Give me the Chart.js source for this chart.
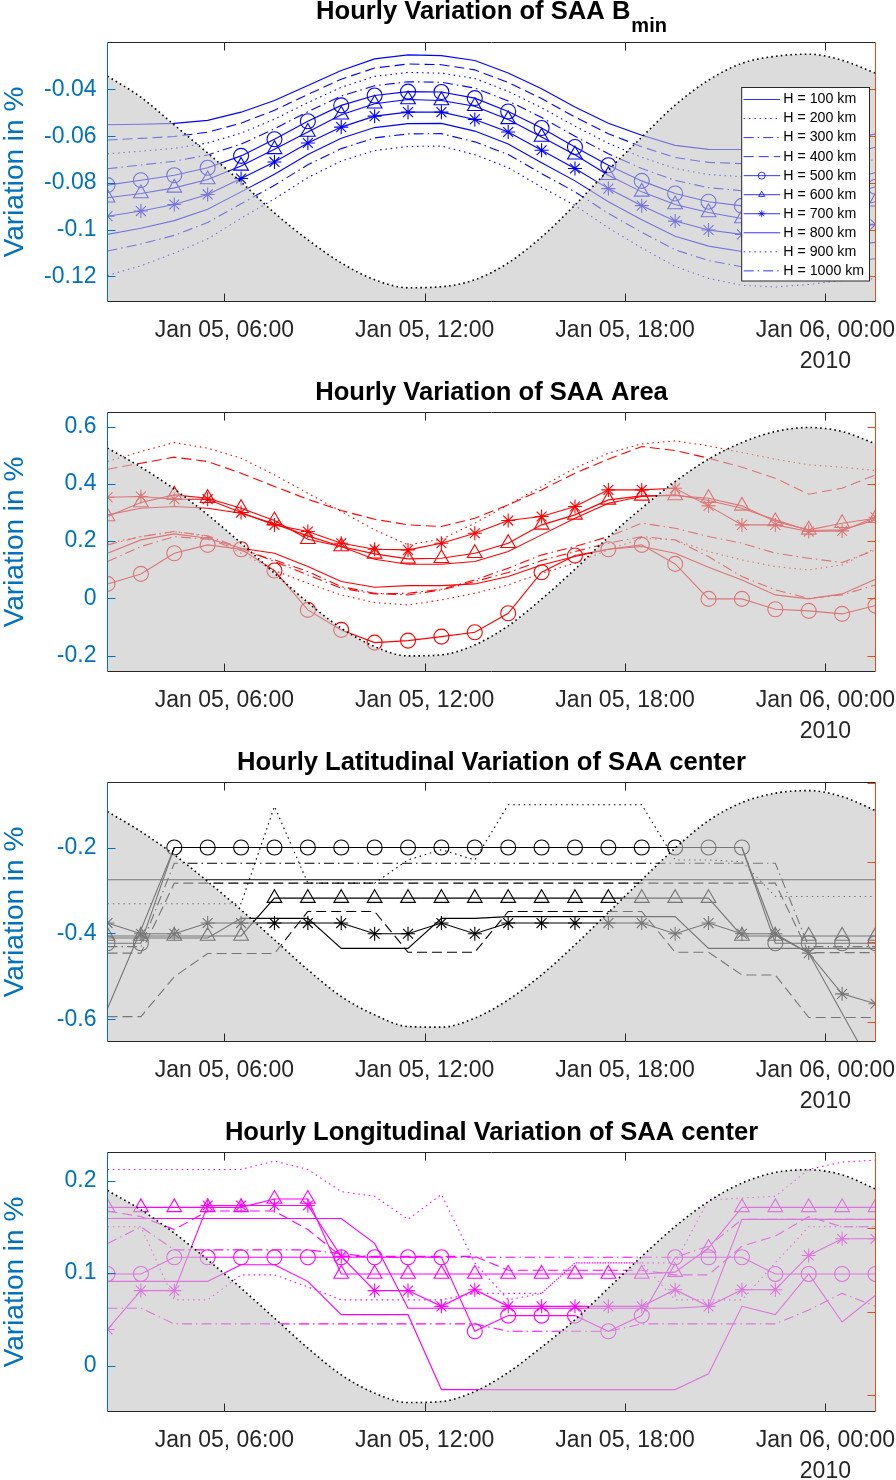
<!DOCTYPE html>
<html>
<head>
<meta charset="utf-8">
<script src="https://cdn.jsdelivr.net/npm/chart.js@4.4.1/dist/chart.umd.min.js"></script>
<style>
html,body{margin:0;padding:0;background:#fff;}
canvas{display:block;}
</style>
</head>
<body>
<canvas id="c1" width="896" height="370"></canvas>
<canvas id="c2" width="896" height="370"></canvas>
<canvas id="c3" width="896" height="370"></canvas>
<canvas id="c4" width="896" height="370"></canvas>
<script>
// ---------------- shared categories / ticks ----------------
const hours = [2.5,3.5,4.5,5.5,6.5,7.5,8.5,9.5,10.5,11.5,12.5,13.5,14.5,15.5,16.5,17.5,18.5,19.5,20.5,21.5,22.5,23.5,24.5,25.5];
const xTickValues = [6,12,18,24];
const xTickLabels = ['Jan 05, 06:00','Jan 05, 12:00','Jan 05, 18:00','Jan 06, 00:00'];
const xYearLabel = '2010';
const seriesNames = ['H = 100 km','H = 200 km','H = 300 km','H = 400 km','H = 500 km','H = 600 km','H = 700 km','H = 800 km','H = 900 km','H = 1000 km'];
const yAxisTitle = 'Variation in %';

// ---------------- panel 1 : B_min ----------------
const bminTitle = 'Hourly Variation of SAA B';
const bminTitleSub = 'min';
const bminH100 = [-0.0551,-0.0549,-0.0545,-0.0532,-0.0497,-0.0447,-0.0383,-0.0319,-0.0269,-0.0252,-0.0255,-0.0276,-0.0329,-0.0397,-0.0475,-0.0544,-0.0596,-0.0639,-0.0656,-0.0657,-0.0658,-0.0650,-0.0625,-0.0590];
const bminH200 = [-0.0675,-0.0664,-0.0652,-0.0629,-0.0587,-0.0527,-0.0456,-0.0391,-0.0344,-0.0327,-0.0330,-0.0353,-0.0408,-0.0478,-0.0557,-0.0630,-0.0690,-0.0738,-0.0764,-0.0773,-0.0775,-0.0766,-0.0737,-0.0698];
const bminH300 = [-0.0739,-0.0723,-0.0707,-0.0680,-0.0634,-0.0568,-0.0495,-0.0428,-0.0384,-0.0367,-0.0369,-0.0394,-0.0449,-0.0520,-0.0600,-0.0675,-0.0738,-0.0789,-0.0820,-0.0833,-0.0836,-0.0827,-0.0796,-0.0755];
const bminH400 = [-0.0616,-0.0609,-0.0601,-0.0583,-0.0544,-0.0489,-0.0421,-0.0356,-0.0308,-0.0291,-0.0294,-0.0316,-0.0370,-0.0439,-0.0518,-0.0589,-0.0645,-0.0691,-0.0712,-0.0717,-0.0719,-0.0711,-0.0684,-0.0647];
const bminH500 = [-0.0809,-0.0788,-0.0767,-0.0735,-0.0684,-0.0613,-0.0536,-0.0468,-0.0426,-0.0409,-0.0411,-0.0437,-0.0494,-0.0565,-0.0646,-0.0724,-0.0791,-0.0845,-0.0880,-0.0898,-0.0902,-0.0892,-0.0859,-0.0816];
const bminH600 = [-0.0863,-0.0845,-0.0821,-0.0785,-0.0727,-0.0656,-0.0582,-0.0508,-0.0461,-0.0443,-0.0447,-0.0472,-0.0528,-0.0603,-0.0679,-0.0767,-0.0838,-0.0892,-0.0926,-0.0952,-0.0955,-0.0945,-0.0912,-0.0880];
const bminH700 = [-0.0942,-0.0920,-0.0892,-0.0849,-0.0781,-0.0710,-0.0629,-0.0561,-0.0514,-0.0497,-0.0497,-0.0528,-0.0582,-0.0660,-0.0738,-0.0824,-0.0897,-0.0963,-0.1001,-0.1020,-0.1025,-0.1015,-0.0995,-0.0977];
const bminH800 = [-0.1020,-0.0994,-0.0961,-0.0912,-0.0838,-0.0763,-0.0678,-0.0609,-0.0563,-0.0546,-0.0545,-0.0578,-0.0633,-0.0713,-0.0791,-0.0880,-0.0957,-0.1028,-0.1070,-0.1093,-0.1098,-0.1088,-0.1069,-0.1054];
const bminH900 = [-0.1196,-0.1154,-0.1100,-0.1039,-0.0951,-0.0868,-0.0777,-0.0706,-0.0661,-0.0644,-0.0642,-0.0679,-0.0734,-0.0818,-0.0896,-0.0992,-0.1078,-0.1157,-0.1208,-0.1238,-0.1245,-0.1234,-0.1217,-0.1209];
const bminH1000 = [-0.1091,-0.1061,-0.1024,-0.0969,-0.0889,-0.0810,-0.0722,-0.0653,-0.0607,-0.0590,-0.0589,-0.0624,-0.0678,-0.0760,-0.0838,-0.0930,-0.1011,-0.1086,-0.1132,-0.1158,-0.1164,-0.1154,-0.1136,-0.1124];
const bminShade = [-0.0343,-0.0433,-0.0552,-0.0672,-0.0796,-0.0928,-0.1043,-0.1142,-0.1214,-0.1248,-0.1244,-0.1214,-0.1142,-0.1031,-0.0894,-0.0745,-0.0604,-0.0467,-0.0360,-0.0288,-0.0258,-0.0249,-0.0275,-0.0330];
const bminYTicks = [-0.12,-0.1,-0.08,-0.06,-0.04];
const bminYTickLabels = ['-0.12','-0.1','-0.08','-0.06','-0.04'];

// ---------------- panel 2 : Area ----------------
const areaTitle = 'Hourly Variation of SAA Area';
const areaH100 = [0.2917,0.3149,0.3208,0.3149,0.2975,0.2603,0.2184,0.1811,0.1369,0.1195,0.1195,0.1288,0.1637,0.2219,0.2800,0.3324,0.3557,0.3615,0.3417,0.3149,0.2742,0.2370,0.2393,0.2742];
const areaH200 = [0.4778,0.5127,0.5442,0.5244,0.4895,0.4313,0.3673,0.3033,0.2393,0.1870,0.2067,0.2626,0.3266,0.3906,0.4546,0.5069,0.5395,0.5500,0.5325,0.5092,0.4860,0.4662,0.4581,0.4464];
const areaH300 = [0.1870,0.2160,0.2335,0.2184,0.1753,0.1288,0.0822,0.0357,0.0159,0.0182,0.0322,0.0648,0.1055,0.1520,0.1811,0.2160,0.2626,0.2451,0.2160,0.1928,0.1579,0.1404,0.1253,0.1695];
const areaH400 = [0.4511,0.4720,0.4930,0.4778,0.4371,0.3906,0.3464,0.3068,0.2765,0.2568,0.2509,0.2800,0.3266,0.3789,0.4371,0.4860,0.5302,0.5162,0.4895,0.4581,0.4197,0.3638,0.3848,0.4313];
const areaH500 = [0.0508,0.0857,0.1579,0.1870,0.1718,0.0974,-0.0399,-0.1097,-0.1539,-0.1470,-0.1330,-0.1179,-0.0516,0.0916,0.1497,0.1718,0.1870,0.1206,-0.0015,-0.0015,-0.0376,-0.0434,-0.0539,-0.0248];
const areaH600 = [0.2859,0.3347,0.3615,0.3498,0.3149,0.2719,0.2067,0.1811,0.1555,0.1381,0.1404,0.1579,0.1928,0.2568,0.2917,0.3440,0.3580,0.3592,0.3498,0.3231,0.2684,0.2393,0.2626,0.2800];
const areaH700 = [0.3533,0.3557,0.3464,0.3464,0.2998,0.2568,0.2335,0.1928,0.1718,0.1695,0.1928,0.2277,0.2719,0.2859,0.3208,0.3789,0.3789,0.3847,0.3231,0.2568,0.2568,0.2335,0.2358,0.2835];
const areaH800 = [0.1579,0.2044,0.2254,0.2102,0.1753,0.1579,0.1113,0.0590,0.0392,0.0450,0.0450,0.0508,0.0764,0.1171,0.1462,0.1718,0.1811,0.1579,0.1090,0.0648,0.0124,-0.0015,0.0159,0.0671];
const areaH900 = [0.1928,0.2160,0.2335,0.2160,0.1579,0.0974,0.0532,0.0124,-0.0143,-0.0225,-0.0050,0.0182,0.0473,0.0881,0.1230,0.1695,0.2102,0.2044,0.1637,0.1346,0.1113,0.0997,0.1171,0.1753];
const areaH1000 = [0.1288,0.1811,0.2160,0.2067,0.1672,0.1346,0.0939,0.0415,0.0182,0.0124,0.0299,0.0590,0.0904,0.1323,0.1637,0.1928,0.2160,0.2044,0.1462,0.0764,0.0299,0.0008,0.0124,0.0473];
const areaShade = [0.5246,0.4583,0.3815,0.2918,0.1930,0.0883,-0.0143,-0.1037,-0.1679,-0.2003,-0.1968,-0.1620,-0.0956,-0.0024,0.1023,0.2140,0.3152,0.4080,0.4862,0.5442,0.5825,0.5965,0.5825,0.5396];
const areaYTicks = [-0.2,0,0.2,0.4,0.6];
const areaYTickLabels = ['-0.2','0','0.2','0.4','0.6'];

// ---------------- panel 3 : latitude of centre ----------------
const latTitle = 'Hourly Latitudinal Variation of SAA center';
const latH100 = [-0.275,-0.275,-0.275,-0.275,-0.275,-0.275,-0.275,-0.275,-0.275,-0.275,-0.275,-0.275,-0.275,-0.275,-0.275,-0.275,-0.275,-0.275,-0.275,-0.275,-0.275,-0.275,-0.275,-0.275];
const latH200 = [-0.331,-0.331,-0.331,-0.331,-0.331,-0.104,-0.283,-0.283,-0.283,-0.229,-0.205,-0.229,-0.1005,-0.1005,-0.1005,-0.1005,-0.1005,-0.229,-0.229,-0.233,-0.314,-0.314,-0.314,-0.314];
const latH300 = [-0.431,-0.431,-0.2365,-0.2365,-0.2365,-0.2365,-0.2365,-0.2365,-0.2365,-0.2365,-0.2365,-0.2365,-0.2365,-0.2365,-0.2365,-0.2365,-0.2365,-0.2365,-0.2365,-0.2365,-0.2365,-0.431,-0.431,-0.431];
const latH400 = [-0.446,-0.446,-0.283,-0.283,-0.283,-0.283,-0.283,-0.283,-0.283,-0.283,-0.283,-0.283,-0.283,-0.283,-0.283,-0.283,-0.283,-0.283,-0.283,-0.283,-0.283,-0.445,-0.445,-0.445];
const latH500 = [-0.423,-0.423,-0.2,-0.2,-0.2,-0.2,-0.2,-0.2,-0.2,-0.2,-0.2,-0.2,-0.2,-0.2,-0.2,-0.2,-0.2,-0.2,-0.2,-0.2,-0.423,-0.423,-0.423,-0.423];
const latH600 = [-0.406,-0.406,-0.406,-0.406,-0.406,-0.318,-0.318,-0.318,-0.318,-0.318,-0.318,-0.318,-0.318,-0.318,-0.318,-0.318,-0.318,-0.318,-0.318,-0.406,-0.406,-0.406,-0.406,-0.406];
const latH700 = [-0.376,-0.401,-0.401,-0.376,-0.376,-0.376,-0.376,-0.376,-0.401,-0.401,-0.376,-0.401,-0.376,-0.376,-0.376,-0.376,-0.376,-0.401,-0.376,-0.401,-0.401,-0.446,-0.541,-0.564];
const latH800 = [-0.411,-0.411,-0.411,-0.411,-0.365,-0.365,-0.365,-0.435,-0.435,-0.435,-0.365,-0.365,-0.361,-0.361,-0.361,-0.361,-0.361,-0.361,-0.435,-0.435,-0.435,-0.435,-0.435,-0.435];
const latH900 = [-0.594,-0.594,-0.501,-0.447,-0.447,-0.447,-0.349,-0.349,-0.349,-0.444,-0.444,-0.444,-0.349,-0.349,-0.349,-0.349,-0.349,-0.444,-0.444,-0.497,-0.497,-0.596,-0.596,-0.596];
const latH1000 = [-0.575,-0.392,-0.2,-0.2,-0.2,-0.2,-0.2,-0.2,-0.2,-0.2,-0.2,-0.2,-0.2,-0.2,-0.2,-0.2,-0.2,-0.2,-0.2,-0.2,-0.404,-0.446,-0.586,-0.726];
const latShade = [2.635,2.384,2.092,1.757,1.401,1.025,0.649,0.314,0.084,-0.063,-0.071,0.042,0.272,0.586,0.962,1.368,1.778,2.176,2.522,2.748,2.866,2.898,2.823,2.647];
const latYTicks = [-0.6,-0.4,-0.2];
const latYTickLabels = ['-0.6','-0.4','-0.2'];

// ---------------- panel 4 : longitude of centre ----------------
const lonTitle = 'Hourly Longitudinal Variation of SAA center';
const lonH100 = [0.159,0.159,0.159,0.159,0.159,0.159,0.159,0.159,0.132,0.062,0.062,0.062,0.062,0.062,0.062,0.062,0.062,0.062,0.064,0.158,0.158,0.158,0.158,0.158];
const lonH200 = [0.212,0.212,0.212,0.212,0.212,0.221,0.212,0.188,0.183,0.158,0.185,0.111,0.071,0.078,0.111,0.111,0.111,0.111,0.179,0.181,0.183,0.212,0.220,0.222];
const lonH300 = [0.132,0.150,0.125,0.125,0.125,0.125,0.125,0.121,0.117,0.117,0.117,0.117,0.117,0.117,0.117,0.117,0.117,0.117,0.129,0.158,0.158,0.158,0.158,0.158];
const lonH400 = [0.167,0.161,0.147,0.167,0.167,0.167,0.147,0.118,0.118,0.118,0.118,0.118,0.103,0.103,0.103,0.103,0.103,0.098,0.098,0.129,0.140,0.161,0.150,0.150];
const lonH500 = [0.099,0.099,0.117,0.117,0.117,0.117,0.117,0.117,0.117,0.117,0.117,0.037,0.054,0.054,0.054,0.037,0.054,0.117,0.117,0.117,0.099,0.099,0.099,0.099];
const lonH600 = [0.171,0.171,0.171,0.171,0.171,0.180,0.180,0.099,0.099,0.099,0.099,0.099,0.099,0.099,0.099,0.099,0.099,0.101,0.127,0.171,0.171,0.171,0.171,0.171];
const lonH700 = [0.039,0.081,0.081,0.173,0.173,0.173,0.173,0.118,0.081,0.081,0.064,0.082,0.064,0.064,0.064,0.064,0.064,0.082,0.064,0.082,0.082,0.119,0.137,0.137];
const lonH800 = [0.091,0.091,0.091,0.091,0.109,0.109,0.091,0.055,0.055,0.055,-0.026,-0.026,-0.026,-0.026,-0.026,-0.026,-0.026,-0.026,-0.009,0.064,0.055,0.099,0.047,0.076];
const lonH900 = [0.150,0.150,0.071,0.071,0.098,0.098,0.085,0.071,0.071,0.071,0.071,0.078,0.078,0.078,0.111,0.111,0.111,0.071,0.071,0.071,0.111,0.150,0.150,0.150];
const lonH1000 = [0.062,0.062,0.045,0.045,0.045,0.045,0.045,0.045,0.045,0.045,0.045,0.045,0.037,0.037,0.037,0.037,0.045,0.045,0.045,0.045,0.045,0.060,0.078,0.064];
const lonShade = [2.450,2.219,1.940,1.620,1.281,0.922,0.563,0.243,0.024,-0.089,-0.077,0.043,0.271,0.575,0.902,1.281,1.660,2.019,2.319,2.539,2.666,2.698,2.638,2.467];
const lonYTicks = [0,0.1,0.2];
const lonYTickLabels = ['0','0.1','0.2'];

// ---------------- styling ----------------
const FONT = "'Liberation Sans', Arial, Helvetica, sans-serif";
Chart.defaults.font.family = FONT;
const DASH = {solid: [], dashed: [10,5], dotted: [1.5,3.8], dashdot: [10,4,1.5,4]};
const MARK = [null,null,null,null,'circle','triangle','star',null,null,null];
const MARK_R = {circle: 7.5, triangle: 8.5, star: 7};
const STYLE_STD = ['solid','dotted','dashdot','dashed','solid','solid','solid','solid','dotted','dashdot'];
const STYLE_LAT = ['solid','dotted','dashdot','dashed','solid','solid','solid','solid','dashed','solid'];

function drawMarker(ctx, style, x, y, r) {
  ctx.beginPath();
  if (style === 'circle') {
    ctx.arc(x, y, r, 0, Math.PI * 2);
  } else if (style === 'triangle') {
    ctx.moveTo(x, y - r); ctx.lineTo(x + r * 0.866, y + r / 2); ctx.lineTo(x - r * 0.866, y + r / 2); ctx.closePath();
  } else if (style === 'star') {
    for (let k = 0; k < 4; k++) {
      const an = k * Math.PI / 4;
      ctx.moveTo(x + Math.cos(an) * r, y + Math.sin(an) * r);
      ctx.lineTo(x - Math.cos(an) * r, y - Math.sin(an) * r);
    }
  }
  ctx.stroke();
}

const panelDecor = {
  id: 'panelDecor',
  afterDatasetsDraw(chart, args, o) {
    const {ctx, chartArea: a} = chart;
    const xs = chart.scales.x, ys = chart.scales.y, y2 = chart.scales.y2;
    const L = 8;
    ctx.save();
    ctx.lineWidth = 1;
    ctx.setLineDash([]);
    const seg = (x1, y1, x2, yy2, c) => { ctx.strokeStyle = c; ctx.beginPath(); ctx.moveTo(x1, y1); ctx.lineTo(x2, yy2); ctx.stroke(); };
    xs.ticks.forEach(t => {
      const px = Math.round(xs.getPixelForValue(t.value)) + 0.5;
      seg(px, a.bottom, px, a.bottom - L, '#262626');
      seg(px, a.top, px, a.top + L, '#262626');
    });
    ys.ticks.forEach(t => {
      const py = Math.round(ys.getPixelForValue(t.value)) + 0.5;
      seg(a.left, py, a.left + L, py, '#0072BD');
    });
    (o.rightTicks || []).forEach(v => {
      const py = Math.round(y2.getPixelForValue(v)) + 0.5;
      seg(a.right, py, a.right - L, py, '#D95319');
    });
    seg(a.left, a.top, a.right, a.top, '#262626');
    seg(a.left, a.bottom, a.right, a.bottom, '#262626');
    seg(a.left, a.top, a.left, a.bottom, '#0072BD');
    seg(a.right, a.top, a.right, a.bottom, '#D95319');
    ctx.restore();
  },
  afterDraw(chart, args, o) {
    const {ctx, chartArea: a} = chart;
    ctx.save();
    // title
    ctx.fillStyle = '#000';
    ctx.textBaseline = 'alphabetic';
    ctx.textAlign = 'left';
    ctx.font = 'bold 25.6px ' + FONT;
    const w1 = ctx.measureText(o.titleText).width;
    let w2 = 0;
    if (o.titleSub) { ctx.font = 'bold 20px ' + FONT; w2 = ctx.measureText(o.titleSub).width + 1; }
    const x0 = (a.left + a.right) / 2 - (w1 + w2) / 2;
    ctx.font = 'bold 25.6px ' + FONT;
    ctx.fillText(o.titleText, x0, o.titleBaseline);
    if (o.titleSub) { ctx.font = 'bold 20px ' + FONT; ctx.fillText(o.titleSub, x0 + w1 + 1, o.titleBaseline + 12.5); }
    // legend
    if (o.legend) {
      const bx = a.right - 133.8, by = a.top + 45, bw = 127.8, bh = 193.5;
      ctx.fillStyle = '#fff';
      ctx.fillRect(bx, by, bw, bh);
      ctx.strokeStyle = '#262626'; ctx.lineWidth = 1; ctx.setLineDash([]);
      ctx.strokeRect(bx, by, bw, bh);
      const dsets = chart.data.datasets;
      for (let i = 0; i < seriesNames.length; i++) {
        const ds = dsets[i];
        const yy = by + 12 + i * 19.04;
        ctx.save();
        ctx.globalAlpha = 0.8;
        ctx.strokeStyle = ds.borderColor; ctx.lineWidth = 1;
        ctx.setLineDash(ds.borderDash);
        ctx.beginPath(); ctx.moveTo(bx + 2, yy); ctx.lineTo(bx + 38.5, yy); ctx.stroke();
        ctx.setLineDash([]);
        if (MARK[i]) drawMarker(ctx, MARK[i], bx + 20, yy, 3.5);
        ctx.restore();
        ctx.fillStyle = '#000';
        ctx.font = '14.2px ' + FONT;
        ctx.textBaseline = 'middle';
        ctx.textAlign = 'left';
        ctx.fillText(ds.label, bx + 41.6, yy);
      }
    }
    ctx.restore();
  }
};

function makePanel(id, p) {
  const datasets = p.series.map((vals, i) => {
    const m = MARK[i];
    return {
      label: seriesNames[i],
      data: vals,
      borderColor: p.color,
      borderWidth: 1.1,
      borderDash: DASH[p.styles[i]],
      pointStyle: m || 'circle',
      pointRadius: m ? MARK_R[m] : 0,
      pointHoverRadius: 0,
      pointBorderWidth: 1.1,
      pointBorderColor: p.color,
      pointBackgroundColor: 'rgba(0,0,0,0)',
      tension: 0,
      fill: false,
      yAxisID: 'y',
      order: 0
    };
  });
  datasets.push({
    label: 'shade',
    data: p.shade,
    yAxisID: 'y2',
    borderColor: '#000',
    borderWidth: 1.6,
    borderDash: [1.6, 3.2],
    backgroundColor: 'rgba(197,197,197,0.6)',
    fill: 'start',
    pointRadius: 0,
    pointHoverRadius: 0,
    cubicInterpolationMode: 'monotone',
    order: -1
  });
  return new Chart(document.getElementById(id), {
    type: 'line',
    data: {labels: hours, datasets},
    plugins: [panelDecor],
    options: {
      responsive: false,
      animation: false,
      devicePixelRatio: 1,
      events: [],
      layout: {padding: {top: 42.5, right: 20.5, bottom: 0, left: 0}},
      plugins: {
        legend: {display: false},
        tooltip: {enabled: false},
        panelDecor: {
          titleText: p.title, titleSub: p.titleSub || '', titleBaseline: p.titleBaseline,
          rightTicks: p.rightTicks, legend: !!p.legend
        }
      },
      scales: {
        x: {
          type: 'linear', min: 2.5, max: 25.5,
          grid: {display: false, drawTicks: false}, border: {display: false},
          afterBuildTicks: s => { s.ticks = xTickValues.map(v => ({value: v})); },
          afterFit: s => { s.height = 68.5; s.paddingLeft = 0; s.paddingRight = 0; },
          ticks: {
            autoSkip: false, maxRotation: 0, minRotation: 0, padding: 14,
            color: '#262626', font: {size: 23, lineHeight: 1.35},
            callback: (v, i) => (i === xTickLabels.length - 1 ? [xTickLabels[i], xYearLabel] : xTickLabels[i])
          }
        },
        y: {
          type: 'linear', position: 'left', min: p.yMin, max: p.yMax,
          grid: {display: false, drawTicks: false}, border: {display: false},
          afterBuildTicks: s => { s.ticks = p.yTicks.map(v => ({value: v})); },
          afterFit: s => { s.width = 107.5; s.paddingTop = 0; s.paddingBottom = 0; },
          ticks: {padding: 11, color: '#0072BD', font: {size: 23}, callback: (v, i) => p.yTickLabels[i]},
          title: {display: true, text: yAxisTitle, color: '#0072BD', font: {size: 28, lineHeight: 1}, padding: {top: 1, bottom: 0}}
        },
        y2: {type: 'linear', position: 'right', display: false, min: p.y2Min, max: p.y2Max}
      }
    }
  });
}

makePanel('c1', {
  title: bminTitle, titleSub: bminTitleSub, titleBaseline: 19, legend: true,
  color: '#0000FF', styles: STYLE_STD,
  series: [bminH100,bminH200,bminH300,bminH400,bminH500,bminH600,bminH700,bminH800,bminH900,bminH1000],
  shade: bminShade, yMin: -0.1307, yMax: -0.0199, y2Min: -0.1307, y2Max: -0.0199,
  yTicks: bminYTicks, yTickLabels: bminYTickLabels, rightTicks: bminYTicks
});
makePanel('c2', {
  title: areaTitle, titleBaseline: 30,
  color: '#FF0000', styles: STYLE_STD,
  series: [areaH100,areaH200,areaH300,areaH400,areaH500,areaH600,areaH700,areaH800,areaH900,areaH1000],
  shade: areaShade, yMin: -0.2548, yMax: 0.6489, y2Min: -0.2548, y2Max: 0.6489,
  yTicks: areaYTicks, yTickLabels: areaYTickLabels, rightTicks: areaYTicks
});
makePanel('c3', {
  title: latTitle, titleBaseline: 30,
  color: '#000000', styles: STYLE_LAT,
  series: [latH100,latH200,latH300,latH400,latH500,latH600,latH700,latH800,latH900,latH1000],
  shade: latShade, yMin: -0.652, yMax: -0.0485, y2Min: -0.251, y2Max: 3.0,
  yTicks: latYTicks, yTickLabels: latYTickLabels, rightTicks: [0,1,2,3]
});
makePanel('c4', {
  title: lonTitle, titleBaseline: 30,
  color: '#FF00FF', styles: STYLE_STD,
  series: [lonH100,lonH200,lonH300,lonH400,lonH500,lonH600,lonH700,lonH800,lonH900,lonH1000],
  shade: lonShade, yMin: -0.0497, yMax: 0.2303, y2Min: -0.196, y2Max: 2.905,
  yTicks: lonYTicks, yTickLabels: lonYTickLabels, rightTicks: [0,1,2]
});
</script>
</body>
</html>
